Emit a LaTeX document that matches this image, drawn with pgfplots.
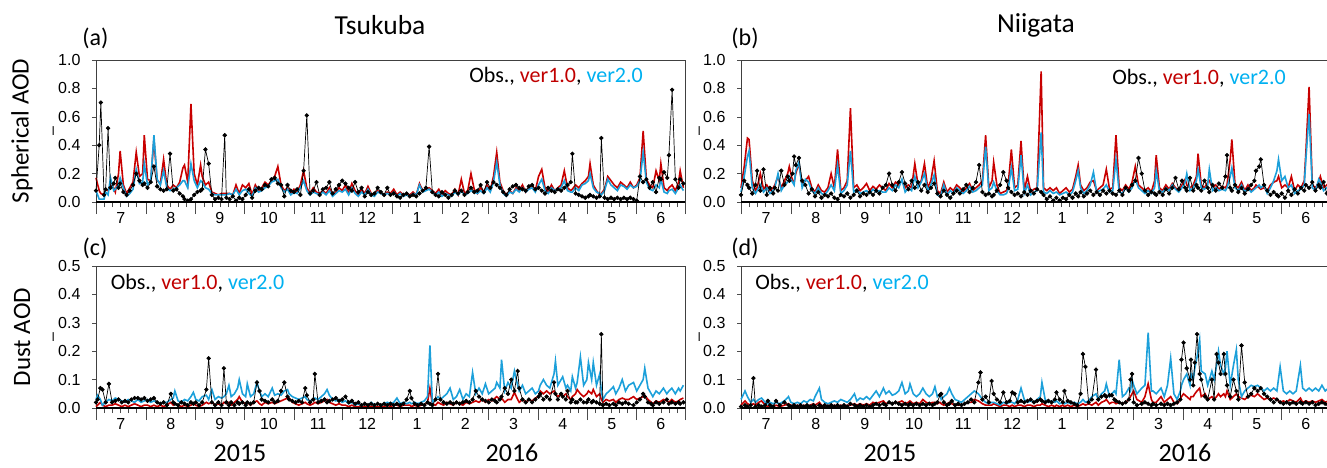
\documentclass[border=0pt]{standalone}
\usepackage{fontspec}
\setmainfont{Carlito}
\newfontfamily\arial{Liberation Sans}
\usepackage{pgfplots}
\usepackage{pgfplotstable}
\pgfplotsset{compat=1.18}
\definecolor{vone}{RGB}{200,0,0}
\definecolor{vtwo}{RGB}{28,160,218}
\definecolor{tone}{RGB}{192,0,0}
\definecolor{ttwo}{RGB}{0,176,240}

% Tsukuba spherical AOD: day obs ver1 ver2
\pgfplotstableread{
d obs v1 v2
0 0.08 0.17 0.08
2 0.40 0.08 0.02
3 0.70 0.06 0.02
5 0.05 0.05 0.02
6 0.09 0.09 0.07
7.5 0.52 0.08 0.05
9 0.10 0.12 0.17
11 0.13 0.10 0.08
12 0.17 0.07 0.09
14 0.10 0.20 0.12
15 0.13 0.36 0.17
17 0.07 0.12 0.10
19 0.05 0.06 0.04
21 0.08 0.10 0.06
23 0.12 0.14 0.09
25 0.20 0.35 0.23
27 0.15 0.18 0.13
29 0.12 0.20 0.14
30 0.13 0.47 0.27
32 0.10 0.16 0.12
34 0.14 0.15 0.15
36 0.25 0.44 0.47
38 0.11 0.15 0.16
40 0.09 0.13 0.12
42 0.08 0.30 0.22
44 0.09 0.12 0.10
46 0.34 0.09 0.08
48 0.08 0.12 0.09
50 0.09 0.10 0.10
52 0.06 0.14 0.12
54 0.04 0.24 0.15
55 0.02 0.26 0.15
57 0.01 0.14 0.10
59 0.02 0.69 0.27
61 0.05 0.20 0.15
63 0.07 0.12 0.10
65 0.08 0.26 0.15
66 0.09 0.18 0.14
68 0.37 0.12 0.10
70 0.27 0.14 0.09
72 0.05 0.07 0.06
74 0.02 0.06 0.05
76 0.03 0.05 0.05
78 0.02 0.06 0.05
80 0.47 0.06 0.05
81 0.03 0.06 0.05
83 0.02 0.06 0.06
85 0.04 0.05 0.05
87 0.01 0.12 0.09
89 0.03 0.06 0.05
91 0.02 0.12 0.08
93 0.05 0.10 0.09
95 0.09 0.13 0.06
97 0.03 0.05 0.04
99 0.08 0.12 0.10
101 0.10 0.08 0.07
103 0.09 0.10 0.08
105 0.12 0.14 0.10
107 0.11 0.12 0.11
109 0.16 0.15 0.14
111 0.17 0.18 0.15
113 0.13 0.25 0.16
115 0.12 0.12 0.10
117 0.04 0.08 0.07
119 0.12 0.10 0.09
121 0.08 0.06 0.05
123 0.07 0.09 0.07
125 0.09 0.07 0.06
127 0.05 0.12 0.10
129 0.22 0.22 0.15
131 0.61 0.10 0.08
133 0.06 0.06 0.05
135 0.08 0.10 0.07
137 0.14 0.07 0.06
139 0.05 0.06 0.05
141 0.09 0.08 0.07
143 0.10 0.06 0.05
145 0.14 0.10 0.08
147 0.06 0.05 0.04
149 0.09 0.07 0.06
151 0.12 0.10 0.08
153 0.15 0.08 0.07
155 0.13 0.12 0.09
157 0.10 0.06 0.05
159 0.08 0.13 0.10
161 0.14 0.08 0.06
163 0.07 0.05 0.04
165 0.10 0.09 0.07
167 0.04 0.06 0.05
169 0.07 0.11 0.09
171 0.05 0.06 0.05
173 0.06 0.05 0.04
175 0.10 0.08 0.07
177 0.07 0.06 0.06
179 0.05 0.05 0.05
181 0.10 0.07 0.06
183 0.05 0.06 0.05
185 0.06 0.09 0.07
187 0.04 0.05 0.04
189 0.03 0.07 0.06
191 0.05 0.05 0.04
193 0.06 0.06 0.05
195 0.04 0.05 0.04
197 0.05 0.07 0.06
199 0.04 0.05 0.05
201 0.06 0.13 0.12
203 0.08 0.08 0.07
205 0.10 0.09 0.08
207 0.39 0.10 0.09
209 0.07 0.08 0.07
211 0.05 0.06 0.05
213 0.04 0.09 0.07
215 0.07 0.05 0.04
217 0.05 0.08 0.06
219 0.03 0.06 0.05
221 0.05 0.05 0.04
223 0.08 0.09 0.07
225 0.06 0.05 0.05
227 0.08 0.16 0.08
229 0.05 0.06 0.05
231 0.07 0.08 0.06
233 0.10 0.20 0.08
235 0.07 0.09 0.07
237 0.08 0.06 0.06
239 0.12 0.10 0.08
241 0.07 0.07 0.06
243 0.14 0.12 0.10
245 0.10 0.08 0.07
247 0.14 0.18 0.14
249 0.12 0.35 0.28
251 0.10 0.14 0.12
253 0.07 0.08 0.06
255 0.05 0.05 0.04
257 0.09 0.08 0.07
259 0.11 0.06 0.06
261 0.12 0.10 0.09
263 0.10 0.08 0.07
265 0.09 0.12 0.10
267 0.08 0.07 0.07
269 0.11 0.10 0.09
271 0.12 0.12 0.10
273 0.09 0.08 0.07
275 0.10 0.18 0.12
277 0.08 0.23 0.16
279 0.06 0.10 0.08
281 0.10 0.07 0.06
283 0.08 0.12 0.10
285 0.07 0.08 0.08
287 0.09 0.10 0.09
289 0.08 0.12 0.10
291 0.10 0.22 0.15
293 0.12 0.10 0.08
295 0.14 0.08 0.07
296 0.34 0.09 0.07
298 0.06 0.12 0.10
300 0.05 0.10 0.08
302 0.04 0.13 0.12
304 0.03 0.15 0.13
306 0.04 0.18 0.15
307 0.05 0.27 0.20
309 0.04 0.12 0.10
311 0.03 0.08 0.07
313 0.04 0.05 0.06
314 0.45 0.06 0.05
316 0.03 0.09 0.08
318 0.02 0.18 0.16
320 0.03 0.15 0.12
322 0.02 0.12 0.10
324 0.03 0.10 0.08
326 0.02 0.14 0.12
328 0.03 0.12 0.11
330 0.02 0.10 0.09
332 0.03 0.14 0.12
334 0.02 0.10 0.10
336 0.01 0.12 0.11
338 0.18 0.17 0.15
340 0.14 0.50 0.35
342 0.16 0.16 0.14
344 0.10 0.12 0.09
346 0.14 0.10 0.08
348 0.07 0.22 0.12
350 0.17 0.15 0.10
351 0.16 0.27 0.16
353 0.21 0.10 0.07
355 0.17 0.08 0.06
356 0.33 0.10 0.08
358 0.79 0.12 0.09
360 0.16 0.08 0.06
362 0.10 0.14 0.10
363 0.16 0.22 0.12
365 0.13 0.10 0.08
}\tabA

% Niigata spherical AOD
\pgfplotstableread{
d obs v1 v2
0 0.05 0.10 0.07
2 0.15 0.25 0.18
4 0.12 0.45 0.32
5 0.10 0.44 0.36
7 0.06 0.15 0.10
9 0.12 0.08 0.06
10 0.22 0.10 0.08
12 0.08 0.20 0.12
14 0.23 0.09 0.07
16 0.05 0.12 0.10
18 0.10 0.08 0.06
20 0.06 0.10 0.08
21 0.10 0.12 0.10
23 0.08 0.18 0.20
25 0.22 0.10 0.08
27 0.12 0.15 0.12
29 0.18 0.20 0.14
30 0.15 0.25 0.18
32 0.20 0.15 0.14
33 0.32 0.14 0.12
34 0.26 0.20 0.22
36 0.31 0.27 0.28
38 0.15 0.12 0.10
40 0.12 0.15 0.16
42 0.06 0.18 0.14
44 0.09 0.10 0.08
46 0.04 0.07 0.06
48 0.07 0.12 0.10
50 0.03 0.08 0.06
52 0.05 0.07 0.05
54 0.04 0.10 0.08
56 0.06 0.20 0.12
58 0.03 0.10 0.08
60 0.02 0.37 0.26
62 0.05 0.08 0.06
64 0.04 0.10 0.08
66 0.06 0.15 0.12
68 0.03 0.66 0.36
70 0.05 0.10 0.07
72 0.08 0.12 0.09
74 0.04 0.08 0.06
76 0.06 0.10 0.07
78 0.05 0.13 0.08
80 0.07 0.08 0.06
82 0.05 0.11 0.09
84 0.08 0.09 0.07
86 0.06 0.12 0.08
88 0.10 0.10 0.07
90 0.12 0.08 0.07
92 0.20 0.13 0.10
94 0.12 0.10 0.08
96 0.08 0.14 0.12
98 0.14 0.12 0.10
100 0.21 0.15 0.16
102 0.13 0.10 0.07
104 0.09 0.12 0.10
106 0.15 0.10 0.08
108 0.10 0.27 0.18
110 0.14 0.12 0.10
112 0.08 0.15 0.14
114 0.12 0.27 0.20
116 0.07 0.10 0.08
118 0.10 0.15 0.12
120 0.13 0.29 0.19
122 0.06 0.08 0.05
124 0.04 0.06 0.04
126 0.08 0.14 0.12
128 0.05 0.07 0.05
130 0.03 0.10 0.08
132 0.06 0.08 0.06
134 0.08 0.12 0.10
136 0.06 0.10 0.08
138 0.09 0.07 0.06
140 0.12 0.10 0.08
142 0.07 0.13 0.11
144 0.10 0.08 0.07
146 0.14 0.10 0.08
148 0.26 0.12 0.10
150 0.07 0.15 0.12
152 0.05 0.47 0.39
154 0.06 0.10 0.08
156 0.04 0.15 0.10
157 0.05 0.28 0.14
159 0.08 0.12 0.08
161 0.12 0.06 0.05
163 0.21 0.07 0.05
165 0.15 0.08 0.06
166 0.10 0.12 0.09
168 0.07 0.37 0.24
170 0.05 0.10 0.08
172 0.06 0.12 0.09
174 0.04 0.43 0.33
176 0.07 0.08 0.06
178 0.05 0.18 0.12
180 0.08 0.07 0.05
182 0.06 0.09 0.07
184 0.09 0.10 0.08
186.5 0.07 0.92 0.49
188 0.05 0.10 0.07
190 0.02 0.08 0.06
192 0.04 0.10 0.08
194 0.01 0.08 0.06
196 0.03 0.10 0.07
198 0.01 0.06 0.05
200 0.03 0.08 0.06
202 0.02 0.10 0.07
204 0.05 0.07 0.05
206 0.03 0.09 0.07
208 0.06 0.18 0.15
209.5 0.04 0.26 0.22
211 0.07 0.12 0.10
213 0.04 0.08 0.06
215 0.06 0.10 0.08
217 0.08 0.14 0.12
219 0.05 0.15 0.21
221 0.07 0.08 0.07
223 0.05 0.10 0.08
225 0.08 0.12 0.09
227 0.06 0.23 0.12
229 0.08 0.09 0.07
231 0.06 0.10 0.08
233 0.05 0.47 0.30
235 0.08 0.10 0.07
237 0.05 0.08 0.06
239 0.10 0.12 0.10
241 0.08 0.09 0.07
243 0.12 0.14 0.10
245 0.15 0.25 0.16
247 0.31 0.12 0.10
249 0.20 0.10 0.08
251 0.08 0.08 0.06
253 0.05 0.10 0.08
255 0.07 0.07 0.06
257 0.06 0.15 0.10
258 0.05 0.33 0.22
260 0.07 0.10 0.08
262 0.05 0.08 0.07
264 0.09 0.12 0.10
266 0.06 0.09 0.08
268 0.10 0.13 0.12
270 0.17 0.10 0.09
272 0.09 0.08 0.07
274 0.15 0.12 0.10
276 0.10 0.16 0.14
277 0.08 0.12 0.20
279 0.17 0.10 0.08
281 0.08 0.12 0.10
283 0.12 0.18 0.15
284 0.10 0.34 0.23
286 0.08 0.12 0.10
288 0.15 0.10 0.09
290 0.10 0.14 0.12
291 0.07 0.15 0.23
293 0.12 0.10 0.08
295 0.08 0.12 0.10
297 0.13 0.09 0.08
299 0.10 0.11 0.09
301 0.18 0.10 0.08
302 0.33 0.12 0.10
304 0.10 0.30 0.18
305 0.08 0.44 0.24
307 0.12 0.12 0.10
309 0.07 0.10 0.08
311 0.10 0.14 0.12
313 0.06 0.08 0.07
315 0.09 0.12 0.10
317 0.12 0.08 0.07
319 0.15 0.10 0.09
320 0.22 0.12 0.10
322 0.25 0.10 0.12
323 0.30 0.09 0.10
325 0.12 0.10 0.12
327 0.08 0.08 0.06
329 0.05 0.12 0.10
331 0.07 0.14 0.15
333 0.05 0.15 0.22
334 0.04 0.18 0.30
336 0.06 0.10 0.15
338 0.03 0.12 0.18
340 0.08 0.10 0.10
342 0.05 0.18 0.12
344 0.09 0.08 0.06
346 0.06 0.12 0.08
348 0.10 0.10 0.09
350 0.08 0.15 0.12
351 0.12 0.35 0.30
353 0.10 0.81 0.62
355 0.14 0.12 0.10
357 0.08 0.10 0.08
359 0.12 0.14 0.16
360 0.10 0.18 0.14
362 0.14 0.10 0.08
364 0.06 0.12 0.10
366 0.08 0.14 0.12
}\tabB

% Tsukuba dust AOD
\pgfplotstableread{
d obs v1 v2
0 0.02 0.005 0.03
1 0.03 0.01 0.045
2.7 0.07 0.02 0.03
4 0.065 0.01 0.01
6 0.02 0.005 0.02
8 0.085 0.01 0.03
10 0.02 0.01 0.025
12 0.025 0.015 0.035
14 0.03 0.01 0.03
16 0.02 0.005 0.025
18 0.025 0.01 0.02
20 0.02 0.005 0.03
22 0.03 0.01 0.025
24 0.035 0.015 0.02
26 0.035 0.01 0.03
28 0.03 0.005 0.02
30 0.035 0.01 0.025
32 0.025 0.01 0.03
34 0.03 0.005 0.02
36 0.035 0.01 0.025
38 0.02 0.005 0.02
40 0.015 0.01 0.015
42 0.02 0.005 0.02
44 0.01 0.01 0.02
46.5 0.05 0.02 0.03
48 0.02 0.01 0.035
49 0.015 0.015 0.06
51 0.01 0.01 0.025
53 0.02 0.005 0.02
55 0.015 0.01 0.03
57 0.01 0.005 0.025
59 0.02 0.01 0.04
60.5 0.015 0.015 0.055
62 0.02 0.01 0.03
64 0.01 0.005 0.025
66 0.02 0.01 0.04
68.6 0.065 0.02 0.045
70 0.175 0.015 0.03
72 0.02 0.02 0.065
74 0.01 0.01 0.03
76 0.02 0.015 0.04
78 0.01 0.01 0.035
79.5 0.14 0.02 0.04
81 0.02 0.015 0.05
82.6 0.01 0.02 0.08
84 0.02 0.01 0.04
86 0.01 0.02 0.05
88 0.02 0.03 0.07
89 0.015 0.04 0.10
91 0.02 0.02 0.05
93 0.01 0.015 0.04
94 0.02 0.02 0.085
96 0.015 0.01 0.04
98 0.02 0.02 0.05
100 0.09 0.025 0.09
101.6 0.06 0.015 0.06
103 0.03 0.01 0.04
105 0.025 0.02 0.05
107 0.02 0.015 0.04
109.5 0.03 0.02 0.07
111 0.02 0.015 0.045
113 0.025 0.02 0.05
115 0.06 0.025 0.045
117 0.09 0.03 0.06
119 0.04 0.035 0.065
120 0.03 0.035 0.05
122 0.025 0.02 0.04
124 0.02 0.015 0.035
126 0.025 0.01 0.03
128 0.02 0.015 0.035
130 0.07 0.02 0.04
131 0.045 0.015 0.03
133 0.02 0.01 0.025
135 0.03 0.015 0.03
136 0.12 0.02 0.035
138 0.02 0.015 0.03
140 0.025 0.02 0.04
142 0.03 0.025 0.05
143.6 0.02 0.03 0.065
145 0.025 0.02 0.045
147 0.03 0.015 0.03
149 0.035 0.01 0.025
151 0.025 0.015 0.03
153 0.03 0.01 0.02
155 0.04 0.01 0.025
157 0.02 0.005 0.015
159 0.025 0.01 0.02
161 0.015 0.005 0.01
163 0.02 0.005 0.015
165 0.01 0.005 0.01
167 0.015 0.005 0.015
169 0.01 0.005 0.01
171 0.015 0.005 0.02
173 0.01 0.005 0.01
175 0.015 0.005 0.015
177 0.01 0.005 0.01
179 0.015 0.005 0.015
181 0.01 0.01 0.02
183 0.015 0.005 0.015
185 0.01 0.01 0.02
187 0.015 0.01 0.035
189 0.01 0.005 0.015
191 0.015 0.01 0.02
193 0.03 0.01 0.015
195 0.06 0.01 0.02
196 0.035 0.005 0.015
198 0.015 0.01 0.02
200 0.01 0.005 0.015
202 0.015 0.01 0.02
204 0.01 0.01 0.025
206 0.02 0.02 0.04
207.5 0.015 0.07 0.22
209 0.01 0.015 0.02
211 0.03 0.01 0.03
212.5 0.12 0.02 0.04
214 0.03 0.015 0.03
216 0.02 0.01 0.04
218 0.015 0.02 0.05
220 0.02 0.015 0.07
222 0.015 0.01 0.03
224 0.02 0.02 0.04
226 0.015 0.015 0.065
228 0.02 0.01 0.03
230 0.025 0.02 0.05
232 0.02 0.015 0.04
234 0.03 0.02 0.125
236 0.06 0.025 0.05
238 0.04 0.02 0.07
240 0.03 0.03 0.05
242 0.025 0.02 0.085
244 0.02 0.03 0.05
246 0.03 0.025 0.06
248 0.025 0.035 0.07
249 0.02 0.04 0.09
251 0.03 0.03 0.07
252 0.04 0.035 0.17
254 0.07 0.02 0.06
256 0.05 0.03 0.09
258 0.10 0.03 0.07
260 0.06 0.055 0.13
262 0.13 0.03 0.08
263 0.07 0.02 0.06
265 0.03 0.03 0.08
267 0.02 0.02 0.05
269 0.03 0.03 0.06
271 0.02 0.025 0.07
273 0.03 0.035 0.05
275 0.04 0.04 0.06
276 0.05 0.06 0.08
278 0.03 0.05 0.10
280 0.04 0.06 0.08
282 0.03 0.05 0.07
284.6 0.09 0.06 0.12
285.5 0.05 0.05 0.165
287 0.03 0.04 0.08
289 0.05 0.05 0.10
290 0.04 0.04 0.11
292 0.03 0.05 0.07
293 0.06 0.04 0.08
295 0.02 0.03 0.06
296 0.03 0.04 0.11
298 0.02 0.05 0.07
299 0.02 0.065 0.09
301 0.03 0.05 0.18
303 0.02 0.04 0.08
305 0.02 0.05 0.10
306 0.03 0.06 0.16
308 0.02 0.05 0.10
309 0.025 0.065 0.16
311 0.02 0.04 0.08
313 0.015 0.05 0.12
314 0.26 0.03 0.06
315 0.01 0.02 0.03
317 0.015 0.03 0.05
319 0.01 0.025 0.06
321.5 0.015 0.03 0.075
323 0.01 0.02 0.05
325 0.02 0.03 0.07
327 0.015 0.035 0.10
329 0.02 0.03 0.06
331 0.015 0.03 0.08
334 0.01 0.04 0.09
336 0.02 0.03 0.06
338 0.03 0.035 0.08
340 0.05 0.04 0.10
341 0.04 0.045 0.14
343 0.02 0.03 0.07
345 0.015 0.02 0.05
346 0.01 0.015 0.04
348 0.02 0.025 0.06
350 0.015 0.02 0.05
352.6 0.02 0.03 0.07
354.7 0.03 0.025 0.05
356 0.015 0.02 0.06
357.8 0.02 0.03 0.07
360 0.015 0.02 0.05
362 0.02 0.025 0.07
363 0.015 0.03 0.06
365 0.02 0.035 0.08
}\tabC

% Niigata dust AOD
\pgfplotstableread{
d obs v1 v2
0 0.005 0.01 0.03
2.5 0.01 0.025 0.06
4 0.005 0.015 0.04
6 0.01 0.01 0.02
7.7 0.105 0.015 0.03
9 0.005 0.01 0.02
11 0.01 0.02 0.03
12.8 0.005 0.025 0.035
15 0.01 0.01 0.02
16.7 0.025 0.005 0.015
18 0.01 0.01 0.02
20 0.005 0.005 0.015
21.8 0.025 0.01 0.02
24 0.01 0.005 0.015
27 0.02 0.01 0.025
29.5 0.01 0.015 0.04
31 0.005 0.01 0.02
33 0.01 0.005 0.015
35 0.005 0.01 0.02
37 0.01 0.005 0.015
39 0.005 0.01 0.025
41 0.01 0.005 0.02
43 0.005 0.01 0.03
45 0.01 0.015 0.025
46 0.005 0.01 0.04
48.7 0.01 0.02 0.07
50 0.005 0.01 0.03
52 0.01 0.005 0.02
54 0.005 0.01 0.015
56 0.01 0.005 0.02
58 0.005 0.01 0.025
60 0.01 0.005 0.02
62 0.005 0.01 0.03
64 0.01 0.005 0.025
66 0.005 0.01 0.02
68 0.015 0.01 0.03
70.5 0.01 0.015 0.05
72 0.005 0.01 0.025
74 0.01 0.015 0.035
76 0.005 0.01 0.03
78 0.01 0.015 0.04
80 0.005 0.01 0.03
82 0.01 0.02 0.045
84 0.015 0.015 0.06
86 0.01 0.02 0.04
88.5 0.015 0.025 0.07
90 0.01 0.015 0.05
92 0.02 0.02 0.06
94 0.015 0.015 0.045
96 0.02 0.02 0.05
98 0.015 0.02 0.06
100 0.01 0.025 0.09
102 0.015 0.015 0.05
104 0.01 0.02 0.06
105 0.015 0.025 0.085
107 0.01 0.015 0.05
109 0.015 0.02 0.04
111 0.01 0.015 0.05
113 0.015 0.03 0.07
115 0.01 0.02 0.05
117 0.015 0.015 0.04
119 0.01 0.02 0.05
120.5 0.015 0.02 0.075
122 0.02 0.015 0.04
123.6 0.045 0.02 0.05
124.4 0.05 0.015 0.03
126 0.02 0.01 0.04
128 0.01 0.015 0.05
129.5 0.015 0.02 0.07
131 0.025 0.015 0.05
133 0.01 0.01 0.03
135 0.015 0.01 0.025
137 0.01 0.01 0.02
139 0.015 0.015 0.03
141 0.02 0.02 0.04
143 0.03 0.02 0.05
145 0.02 0.03 0.06
147.5 0.09 0.025 0.05
148.8 0.125 0.02 0.04
150 0.03 0.015 0.03
152 0.04 0.01 0.02
154 0.02 0.01 0.015
155.7 0.095 0.01 0.02
157 0.05 0.015 0.02
159 0.03 0.01 0.015
161 0.02 0.005 0.01
163 0.055 0.01 0.02
165 0.02 0.01 0.015
167 0.025 0.005 0.02
168.5 0.055 0.01 0.02
170 0.05 0.005 0.015
172 0.02 0.01 0.03
174 0.025 0.01 0.07
176 0.02 0.005 0.03
178 0.025 0.01 0.02
180 0.03 0.01 0.025
182 0.02 0.005 0.02
184 0.025 0.01 0.03
186 0.03 0.01 0.04
187 0.025 0.015 0.09
189 0.02 0.01 0.03
191 0.025 0.005 0.02
193 0.02 0.01 0.025
195 0.03 0.005 0.02
196 0.055 0.01 0.025
198 0.03 0.005 0.015
200 0.02 0.01 0.02
201 0.06 0.005 0.015
203 0.025 0.01 0.02
205 0.02 0.005 0.015
207 0.015 0.01 0.02
209 0.01 0.005 0.015
211 0.05 0.01 0.02
212.5 0.19 0.015 0.03
214 0.145 0.01 0.02
216 0.02 0.015 0.025
218 0.03 0.01 0.04
220.6 0.135 0.02 0.05
222 0.03 0.01 0.03
224 0.04 0.02 0.05
226 0.045 0.025 0.06
227 0.04 0.03 0.085
229 0.045 0.015 0.04
230.4 0.045 0.02 0.05
232 0.03 0.02 0.06
233 0.025 0.015 0.05
235 0.02 0.02 0.17
237 0.015 0.015 0.04
239 0.02 0.02 0.05
241 0.03 0.03 0.07
242 0.10 0.04 0.06
243 0.12 0.05 0.10
244 0.02 0.06 0.08
246 0.01 0.03 0.05
249 0.015 0.02 0.07
251 0.02 0.04 0.08
253 0.015 0.085 0.265
255 0.01 0.03 0.06
256 0.015 0.02 0.06
258 0.01 0.02 0.05
261 0.015 0.04 0.07
263 0.01 0.02 0.04
265 0.015 0.03 0.08
267 0.01 0.04 0.175
269 0.015 0.02 0.05
271 0.02 0.015 0.03
273 0.03 0.03 0.06
273.7 0.17 0.04 0.08
275 0.23 0.05 0.10
277 0.14 0.04 0.12
279 0.10 0.03 0.08
279.6 0.17 0.04 0.12
281 0.08 0.04 0.10
282 0.16 0.05 0.14
283.4 0.26 0.06 0.18
285 0.12 0.07 0.24
286 0.10 0.04 0.13
288.4 0.04 0.05 0.12
290 0.03 0.03 0.08
292.6 0.10 0.04 0.13
294 0.03 0.03 0.10
295.5 0.19 0.04 0.15
296.7 0.16 0.05 0.20
298 0.12 0.04 0.15
300 0.19 0.05 0.12
301 0.12 0.04 0.14
302 0.08 0.06 0.20
304 0.04 0.03 0.08
306 0.10 0.04 0.15
307.8 0.06 0.05 0.205
309 0.03 0.04 0.10
311 0.22 0.035 0.04
313 0.09 0.03 0.06
315 0.04 0.04 0.07
317 0.05 0.045 0.08
319 0.07 0.04 0.075
321 0.06 0.05 0.08
323 0.07 0.04 0.07
325 0.05 0.03 0.06
327 0.04 0.035 0.07
329 0.03 0.03 0.06
331 0.02 0.035 0.07
333 0.03 0.03 0.06
335 0.02 0.02 0.145
337 0.015 0.025 0.06
339 0.02 0.02 0.05
341 0.015 0.03 0.06
343 0.02 0.025 0.05
345 0.015 0.02 0.06
347.6 0.02 0.035 0.15
349 0.015 0.02 0.07
351 0.02 0.025 0.06
353 0.015 0.02 0.07
355 0.02 0.025 0.06
357 0.01 0.02 0.07
359 0.015 0.025 0.06
361 0.02 0.03 0.08
363 0.015 0.02 0.06
365 0.01 0.025 0.07
}\tabD

\newcommand\tickfont{\arial\fontsize{16}{18}\selectfont}

\pgfplotsset{
  panel/.style={
    scale only axis, width=589pt, height=142pt,
    xmin=0, xmax=366, ymin=0,
    axis line style={black!75, line width=0.7pt},
    tick align=outside,
    xtick pos=lower, ytick pos=left,
    major tick length=12pt, minor tick length=5pt,
    tick style={black!70, line width=0.6pt},
    ytick style={/pgfplots/major tick length=4pt},
    xtick={0,31,62,92,123,153,184,215,244,275,305,336,366},
    xticklabels={},
    minor xtick={5,10,15,20,25,36,41,46,51,56,67,72,77,82,87,97,102,107,112,117,128,133,138,143,148,158,163,168,173,178,189,194,199,204,209,220,225,230,235,240,249,254,259,264,269,280,285,290,295,300,310,315,320,325,330,341,346,351,356,361},
    extra x ticks={15.5,46.5,77,107.5,138,168.5,199.5,229.5,259.5,290,320.5,351},
    extra x tick labels={7,8,9,10,11,12,1,2,3,4,5,6},
    extra x tick style={major tick length=0pt},
    ticklabel style={font=\tickfont},
    xticklabel style={yshift=-7pt},
    yticklabel style={/pgf/number format/.cd, fixed, fixed zerofill, precision=1, assume math mode=true},
    clip=false,
  },
  obs/.style={black, line width=0.7pt, mark=*, mark size=1.8pt},
  ver1/.style={vone, line width=1.6pt},
  ver2/.style={vtwo, line width=1.6pt},
}

\begin{document}
\begin{tikzpicture}[x=1pt,y=1pt]
\path[use as bounding box] (0,0) rectangle (1327,467);

% (a) Tsukuba spherical
\begin{axis}[panel, at={(96pt,265pt)}, anchor=south west, ymax=1, ytick={0,0.2,0.4,0.6,0.8,1.0}]
\addplot[ver1] table[x=d,y=v1]{\tabA};
\addplot[ver2] table[x=d,y=v2]{\tabA};
\addplot[obs] table[x=d,y=obs]{\tabA};
\draw[black, line width=1.6pt] (axis cs:0,0) -- (axis cs:366,0);
\node[rotate=90, font=\tickfont] at ([xshift=-41pt]rel axis cs:0,0.5) {–};
\node[rotate=90, font=\fontsize{25}{28}\selectfont] at ([xshift=-74pt]rel axis cs:0,0.5) {Spherical AOD};
\end{axis}

% (b) Niigata spherical
\begin{axis}[panel, at={(741pt,265pt)}, anchor=south west, ymax=1, ytick={0,0.2,0.4,0.6,0.8,1.0}]
\addplot[ver1] table[x=d,y=v1]{\tabB};
\addplot[ver2] table[x=d,y=v2]{\tabB};
\addplot[obs] table[x=d,y=obs]{\tabB};
\draw[black, line width=1.6pt] (axis cs:0,0) -- (axis cs:366,0);
\node[rotate=90, font=\tickfont] at ([xshift=-40pt]rel axis cs:0,0.5) {–};
\end{axis}

% (c) Tsukuba dust
\begin{axis}[panel, at={(96pt,59pt)}, anchor=south west, ymax=0.5, ytick={0,0.1,0.2,0.3,0.4,0.5}]
\addplot[ver1] table[x=d,y=v1]{\tabC};
\addplot[ver2] table[x=d,y=v2]{\tabC};
\addplot[obs] table[x=d,y=obs]{\tabC};
\draw[black, line width=1.6pt] (axis cs:0,0) -- (axis cs:366,0);
\node[rotate=90, font=\tickfont] at ([xshift=-41pt]rel axis cs:0,0.5) {–};
\node[rotate=90, font=\fontsize{25}{28}\selectfont] at ([xshift=-74pt]rel axis cs:0,0.5) {Dust AOD};
\end{axis}

% (d) Niigata dust
\begin{axis}[panel, at={(741pt,59pt)}, anchor=south west, ymax=0.5, ytick={0,0.1,0.2,0.3,0.4,0.5}]
\addplot[ver1] table[x=d,y=v1]{\tabD};
\addplot[ver2] table[x=d,y=v2]{\tabD};
\addplot[obs] table[x=d,y=obs]{\tabD};
\draw[black, line width=1.6pt] (axis cs:0,0) -- (axis cs:366,0);
\node[rotate=90, font=\tickfont] at ([xshift=-40pt]rel axis cs:0,0.5) {–};
\end{axis}

% titles and labels
\node[font=\fontsize{27.5}{30}\selectfont] at (380,442) {Tsukuba};
\node[font=\fontsize{27.5}{30}\selectfont] at (1036,442) {Niigata};
\node[font=\fontsize{24}{26}\selectfont] at (95.5,429) {(a)};
\node[font=\fontsize{24}{26}\selectfont] at (745,429) {(b)};
\node[font=\fontsize{24}{26}\selectfont] at (95,219) {(c)};
\node[font=\fontsize{24}{26}\selectfont] at (745,219) {(d)};
\node[font=\fontsize{22}{24}\selectfont] at (556,391) {Obs., {\color{tone}ver1.0}, {\color{ttwo}ver2.0}};
\node[font=\fontsize{22}{24}\selectfont] at (1199,389) {Obs., {\color{tone}ver1.0}, {\color{ttwo}ver2.0}};
\node[font=\fontsize{22}{24}\selectfont] at (197.5,184) {Obs., {\color{tone}ver1.0}, {\color{ttwo}ver2.0}};
\node[font=\fontsize{22}{24}\selectfont] at (842,184) {Obs., {\color{tone}ver1.0}, {\color{ttwo}ver2.0}};
\node[font=\fontsize{26}{28}\selectfont] at (240,14) {2015};
\node[font=\fontsize{26}{28}\selectfont] at (512,14) {2016};
\node[font=\fontsize{26}{28}\selectfont] at (890,14) {2015};
\node[font=\fontsize{26}{28}\selectfont] at (1185,14) {2016};
\end{tikzpicture}
\end{document}
